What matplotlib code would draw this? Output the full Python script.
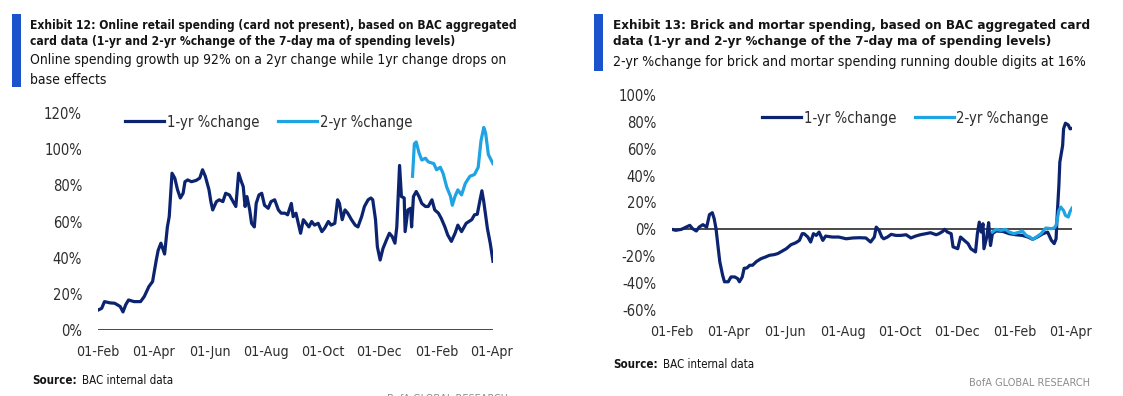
import matplotlib
matplotlib.use("Agg")
import matplotlib.pyplot as plt
import matplotlib.dates as mdates
from matplotlib import font_manager as fm
import pandas as pd
from matplotlib.ticker import FuncFormatter, MultipleLocator

# ---------------- Data: Exhibit 12 (online) ----------------
online_1yr_dates = [
    "2020-02-01", "2020-02-05", "2020-02-08", "2020-02-14", "2020-02-19", "2020-02-25", "2020-02-28",
    "2020-03-02", "2020-03-05", "2020-03-11", "2020-03-18", "2020-03-22", "2020-03-27", "2020-03-31",
    "2020-04-04", "2020-04-06", "2020-04-09", "2020-04-13", "2020-04-16", "2020-04-18", "2020-04-21",
    "2020-04-24", "2020-04-27", "2020-04-30", "2020-05-03", "2020-05-05", "2020-05-08", "2020-05-12",
    "2020-05-17", "2020-05-21", "2020-05-24", "2020-05-27", "2020-05-31", "2020-06-02", "2020-06-04",
    "2020-06-08", "2020-06-11", "2020-06-15", "2020-06-18", "2020-06-22", "2020-06-26", "2020-06-29",
    "2020-07-02", "2020-07-05", "2020-07-07", "2020-07-09", "2020-07-11", "2020-07-14", "2020-07-16",
    "2020-07-19", "2020-07-21", "2020-07-24", "2020-07-27", "2020-07-30", "2020-08-03", "2020-08-06",
    "2020-08-10", "2020-08-14", "2020-08-17", "2020-08-21", "2020-08-24", "2020-08-28", "2020-08-30",
    "2020-09-02", "2020-09-07", "2020-09-10", "2020-09-13", "2020-09-16", "2020-09-19", "2020-09-22",
    "2020-09-26", "2020-09-30", "2020-10-03", "2020-10-07", "2020-10-10", "2020-10-14", "2020-10-17",
    "2020-10-19", "2020-10-22", "2020-10-25", "2020-10-28", "2020-11-01", "2020-11-05", "2020-11-08",
    "2020-11-12", "2020-11-15", "2020-11-19", "2020-11-22", "2020-11-24", "2020-11-27", "2020-11-29",
    "2020-12-02", "2020-12-05", "2020-12-09", "2020-12-12", "2020-12-15", "2020-12-18", "2020-12-20",
    "2020-12-23", "2020-12-25", "2020-12-28", "2020-12-29", "2021-01-01", "2021-01-04", "2021-01-05",
    "2021-01-07", "2021-01-10", "2021-01-13", "2021-01-16", "2021-01-20", "2021-01-23", "2021-01-27",
    "2021-01-30", "2021-02-03", "2021-02-06", "2021-02-10", "2021-02-13", "2021-02-17", "2021-02-21",
    "2021-02-24", "2021-02-28", "2021-03-05", "2021-03-11", "2021-03-14", "2021-03-17", "2021-03-20",
    "2021-03-22", "2021-03-24", "2021-03-28", "2021-03-31", "2021-04-03",
]
online_1yr = [
    11, 12, 15.7, 15, 14.8, 13, 10,
    14, 16.6, 15.7, 15.7, 18.5, 24, 26.8,
    38.7, 44, 48, 42, 57, 62.7, 86.7,
    84, 77.5, 73, 75.6, 82, 83, 82,
    82.7, 84, 88.6, 85, 77.5, 71, 66.4,
    71, 72, 71, 75.6, 74.7, 71, 68.3,
    86.7, 82, 79.3, 68.3, 73.8, 66.4, 59,
    57, 70, 74.7, 75.6, 69, 67.3, 71,
    72, 66.4, 64.6, 64.6, 63.7, 70, 62.7,
    64.6, 53.5, 61, 59, 57, 60, 58,
    59, 54.4, 56.3, 60, 58, 59, 72,
    70, 61, 66.4, 64.6, 61, 58, 57,
    62.7, 68.3, 72, 73, 72, 61, 46,
    38.7, 45, 50, 53.5, 51.7, 48, 57,
    91, 73.8, 73, 54.4, 66.4, 67.3, 57,
    73.8, 76.6, 73.8, 70, 68.3, 68.3, 72,
    66.4, 64.6, 61.8, 57, 52.6, 49, 53.5,
    58, 54.4, 59, 61, 63.7, 64, 72,
    77, 71, 56, 48, 38,
]
online_2yr_dates = [
    "2021-01-06", "2021-01-08", "2021-01-10", "2021-01-13", "2021-01-16", "2021-01-20", "2021-01-23",
    "2021-01-29", "2021-02-01", "2021-02-05", "2021-02-08", "2021-02-12", "2021-02-16", "2021-02-18",
    "2021-02-21", "2021-02-24", "2021-02-28", "2021-03-04", "2021-03-09", "2021-03-14", "2021-03-18",
    "2021-03-21", "2021-03-24", "2021-03-26", "2021-03-29", "2021-03-31", "2021-04-03",
]
online_2yr = [
    85, 103, 104, 98, 94, 95, 93,
    92, 88.6, 90, 86.7, 79, 74, 69,
    74, 77.5, 74.7, 81, 85, 86, 90,
    104.6, 112, 109, 97, 95, 92,
]

# ---------------- Data: Exhibit 13 (brick and mortar) ----------------
bm_1yr_dates = [
    "2020-02-01", "2020-02-05", "2020-02-11", "2020-02-14", "2020-02-20", "2020-02-23", "2020-02-27",
    "2020-03-01", "2020-03-05", "2020-03-09", "2020-03-12", "2020-03-15", "2020-03-17", "2020-03-19",
    "2020-03-21", "2020-03-23", "2020-03-26", "2020-03-28", "2020-04-01", "2020-04-04", "2020-04-08",
    "2020-04-11", "2020-04-13", "2020-04-16", "2020-04-18", "2020-04-21", "2020-04-24", "2020-04-27",
    "2020-05-01", "2020-05-06", "2020-05-11", "2020-05-15", "2020-05-20", "2020-05-24", "2020-05-27",
    "2020-06-02", "2020-06-07", "2020-06-12", "2020-06-16", "2020-06-19", "2020-06-21", "2020-06-25",
    "2020-06-28", "2020-07-01", "2020-07-04", "2020-07-07", "2020-07-11", "2020-07-14", "2020-07-21",
    "2020-07-28", "2020-08-05", "2020-08-12", "2020-08-19", "2020-08-26", "2020-08-31", "2020-09-04",
    "2020-09-06", "2020-09-09", "2020-09-12", "2020-09-14", "2020-09-18", "2020-09-22", "2020-09-27",
    "2020-10-02", "2020-10-08", "2020-10-13", "2020-10-18", "2020-10-23", "2020-10-29", "2020-11-03",
    "2020-11-09", "2020-11-12", "2020-11-16", "2020-11-18", "2020-11-21", "2020-11-25", "2020-11-27",
    "2020-12-02", "2020-12-05", "2020-12-09", "2020-12-13", "2020-12-16", "2020-12-21", "2020-12-23",
    "2020-12-25", "2020-12-27", "2020-12-29", "2020-12-30", "2021-01-02", "2021-01-04", "2021-01-06",
    "2021-01-08", "2021-01-12", "2021-01-19", "2021-01-26", "2021-02-02", "2021-02-09", "2021-02-15",
    "2021-02-20", "2021-02-25", "2021-03-03", "2021-03-08", "2021-03-12", "2021-03-15", "2021-03-17",
    "2021-03-18", "2021-03-20", "2021-03-21", "2021-03-24", "2021-03-25", "2021-03-27", "2021-03-30",
    "2021-04-01", "2021-04-03",
]
bm_1yr = [
    0, -0.7, 0, 1, 3, 0.5, -1.2,
    1.7, 3.5, 1.7, 11, 12.4, 8, 0.5,
    -12, -24, -34, -39, -39, -35.4, -35.4,
    -36.6, -39, -35.4, -29, -28.7, -26.7, -26.7,
    -24, -21.8, -20.5, -19.3, -18.8, -18, -16.8,
    -14.4, -11.4, -10, -8.2, -3.2, -3.2, -5.7,
    -9.4, -3.2, -4.5, -2, -8.2, -5, -5.7,
    -5.7, -7, -6.4, -6.2, -6.4, -9.4, -5.7,
    1.7, -0.7, -5.7, -7, -5.7, -3.7, -4.5,
    -4.5, -4, -6.4, -5, -4, -3.2, -2.5,
    -4, -3.2, -1.5, 0, -2, -3.2, -13,
    -14.4, -5.7, -8.2, -10.6, -14.4, -16.8, -3.2,
    5.4, -2, 4.2, -14.4, -5.7, 5, -12,
    -3.2, -1.2, -1.5, -3.2, -4, -4.5, -5.7,
    -7.4, -5.7, -3.2, -2, -8.2, -10.6, -7,
    8, 32.7, 50, 62.4, 74.8, 79, 77.7,
    74.8, 75.2,
]
bm_2yr_dates = [
    "2021-01-08", "2021-01-12", "2021-01-17", "2021-01-22", "2021-01-26", "2021-01-31", "2021-02-06",
    "2021-02-09", "2021-02-13", "2021-02-17", "2021-02-20", "2021-02-24", "2021-03-01", "2021-03-06",
    "2021-03-12", "2021-03-15", "2021-03-17", "2021-03-20", "2021-03-22", "2021-03-25", "2021-03-27",
    "2021-03-30", "2021-04-01", "2021-04-03",
]
bm_2yr = [
    -2, 0, -0.7, 0, -2, -3.2, -2,
    -1.2, -4.5, -5.7, -7.4, -5.7, -3.2, 1,
    0.5, 1, 3, 14, 16.6, 14, 10.4,
    9.2, 13.4, 15.8,
]

tick_dates = ["2020-02-01", "2020-04-01", "2020-06-01", "2020-08-01", "2020-10-01",
              "2020-12-01", "2021-02-01", "2021-04-01"]

left_title = ["Exhibit 12: Online retail spending (card not present), based on BAC aggregated",
              "card data (1-yr and 2-yr %change of the 7-day ma of spending levels)"]
left_sub = ["Online spending growth up 92% on a 2yr change while 1yr change drops on",
            "base effects"]
right_title = ["Exhibit 13: Brick and mortar spending, based on BAC aggregated card",
               "data (1-yr and 2-yr %change of the 7-day ma of spending levels)"]
right_sub = ["2-yr %change for brick and mortar spending running double digits at 16%"]
series_names = ["1-yr %change", "2-yr %change"]
source_label = "Source:"
source_text = "BAC internal data"
brand = "BofA GLOBAL RESEARCH"

# ---------------- Font choice (prefer a narrow face) ----------------
entries = [(f.name, str(f.stretch)) for f in fm.fontManager.ttflist]
FAM, STRETCH = "Liberation Sans", "normal"
if any(n == "Liberation Sans Narrow" for n, _ in entries):
    FAM = "Liberation Sans Narrow"
elif any(n == "DejaVu Sans" and s in ("condensed", "semi-condensed") for n, s in entries):
    FAM, STRETCH = "DejaVu Sans", "condensed"
plt.rcParams['font.family'] = [FAM, "Liberation Sans", "DejaVu Sans"]
plt.rcParams['font.stretch'] = STRETCH

# ---------------- Styling ----------------
W, H = 1123, 396
NAVY = "#0c2470"
LIGHT = "#1ea4e2"
BAR = "#1a53cc"
TXT = "#141414"
TICK = "#2e2e2e"
LW = 2.3

fig = plt.figure(figsize=(W / 100, H / 100), dpi=100)
fig.patch.set_facecolor("white")
renderer = fig.canvas.get_renderer()


def fx(x):
    return x / W


def fy(y):
    return 1 - y / H


def rect_px(x0, x1, y_top, y_bot):
    return [fx(x0), fy(y_bot), (x1 - x0) / W, (y_bot - y_top) / H]


def text_width(s, fs, weight="normal"):
    t = fig.text(0, 0, s, fontsize=fs, fontweight=weight)
    w = t.get_window_extent(renderer).width
    t.remove()
    return w


def size_for(s, target_px, weight="normal"):
    return 10 * target_px / text_width(s, 10, weight)


def pct(v, _):
    return f"{v:.0f}%"


tick_fs = size_for("01-Feb", 43)
ytick_fs = min(size_for("100%", 38), tick_fs * 1.05)
leg_fs = size_for(series_names[0], 92)
src_fs = size_for(source_text, 91)
brand_fs = size_for(brand, 121)


def setup_axes(ax, ylim, ystep):
    for s in ax.spines.values():
        s.set_visible(False)
    ax.axhline(0, color="#3a3a3a", lw=1.3, zorder=1)
    ax.set_ylim(*ylim)
    ax.yaxis.set_major_locator(MultipleLocator(ystep))
    ax.yaxis.set_major_formatter(FuncFormatter(pct))
    ax.set_xlim(pd.Timestamp("2020-02-01"), pd.Timestamp("2021-04-03"))
    ax.set_xticks(pd.to_datetime(tick_dates))
    ax.xaxis.set_major_formatter(mdates.DateFormatter("%d-%b"))
    ax.tick_params(axis="x", length=0, labelsize=tick_fs, colors=TICK, pad=11)
    ax.tick_params(axis="y", length=0, labelsize=ytick_fs, colors=TICK, pad=11.5)
    ax.set_facecolor("none")


def add_legend(handles, x_px, y_px):
    fs_px = leg_fs * 100 / 72
    fig.legend(handles, series_names, loc="center left",
               bbox_to_anchor=(fx(x_px), fy(y_px)), ncol=2, frameon=False,
               fontsize=leg_fs, handlelength=39 / fs_px, handletextpad=3 / fs_px,
               columnspacing=18 / fs_px, borderpad=0, borderaxespad=0, labelcolor=TICK)


# Left panel
axL = fig.add_axes(rect_px(98, 493, 113, 330))
setup_axes(axL, (0, 120), 20)
l1, = axL.plot(pd.to_datetime(online_1yr_dates), online_1yr, color=NAVY, lw=LW, zorder=3,
               solid_joinstyle="round")
l2, = axL.plot(pd.to_datetime(online_2yr_dates), online_2yr, color=LIGHT, lw=LW, zorder=3,
               solid_joinstyle="round")
add_legend([l1, l2], 125, 122)

# Right panel
axR = fig.add_axes(rect_px(672, 1072, 95, 310))
setup_axes(axR, (-60, 100), 20)
r1, = axR.plot(pd.to_datetime(bm_1yr_dates), bm_1yr, color=NAVY, lw=LW, zorder=3,
               solid_joinstyle="round")
r2, = axR.plot(pd.to_datetime(bm_2yr_dates), bm_2yr, color=LIGHT, lw=LW, zorder=4,
               solid_joinstyle="round")
add_legend([r1, r2], 762, 118)

# Blue side bars
fig.add_artist(plt.Rectangle((fx(12), fy(87)), 9 / W, 73 / H, transform=fig.transFigure,
                             color=BAR, lw=0))
fig.add_artist(plt.Rectangle((fx(594), fy(71)), 9 / W, 57 / H, transform=fig.transFigure,
                             color=BAR, lw=0))

# Titles / subtitles (sizes fitted to the reference line widths)
t_fs_l = size_for(left_title[0], 482, "bold")
s_fs_l = size_for(left_sub[0], 476)
t_fs_r = size_for(right_title[0], 474, "bold")
s_fs_r = size_for(right_sub[0], 472)
for i, t in enumerate(left_title):
    fig.text(fx(30), fy(25 + 16 * i), t, fontsize=t_fs_l, fontweight="bold", color=TXT,
             va="center", ha="left")
for i, t in enumerate(left_sub):
    fig.text(fx(30), fy(60 + 19.5 * i), t, fontsize=s_fs_l, color=TXT, va="center", ha="left")
for i, t in enumerate(right_title):
    fig.text(fx(613), fy(25 + 16 * i), t, fontsize=t_fs_r, fontweight="bold", color=TXT,
             va="center", ha="left")
for i, t in enumerate(right_sub):
    fig.text(fx(613), fy(62 + 20 * i), t, fontsize=s_fs_r, color=TXT, va="center", ha="left")

# Source lines
src_label_w = text_width(source_label, src_fs, "bold")
for (x0, y0) in [(32, 381), (613, 364)]:
    fig.text(fx(x0), fy(y0), source_label, fontsize=src_fs, fontweight="bold", color=TXT,
             va="center", ha="left")
    fig.text(fx(x0 + src_label_w + 5), fy(y0), source_text, fontsize=src_fs, color=TXT,
             va="center", ha="left")

# Footer brand
fig.text(fx(1090), fy(383), brand, fontsize=brand_fs, color="#8c8c8c", va="center", ha="right")
fig.text(fx(508), fy(399), brand, fontsize=brand_fs, color="#8c8c8c", va="center", ha="right")

fig.savefig("out.png", dpi=100, facecolor="white")
